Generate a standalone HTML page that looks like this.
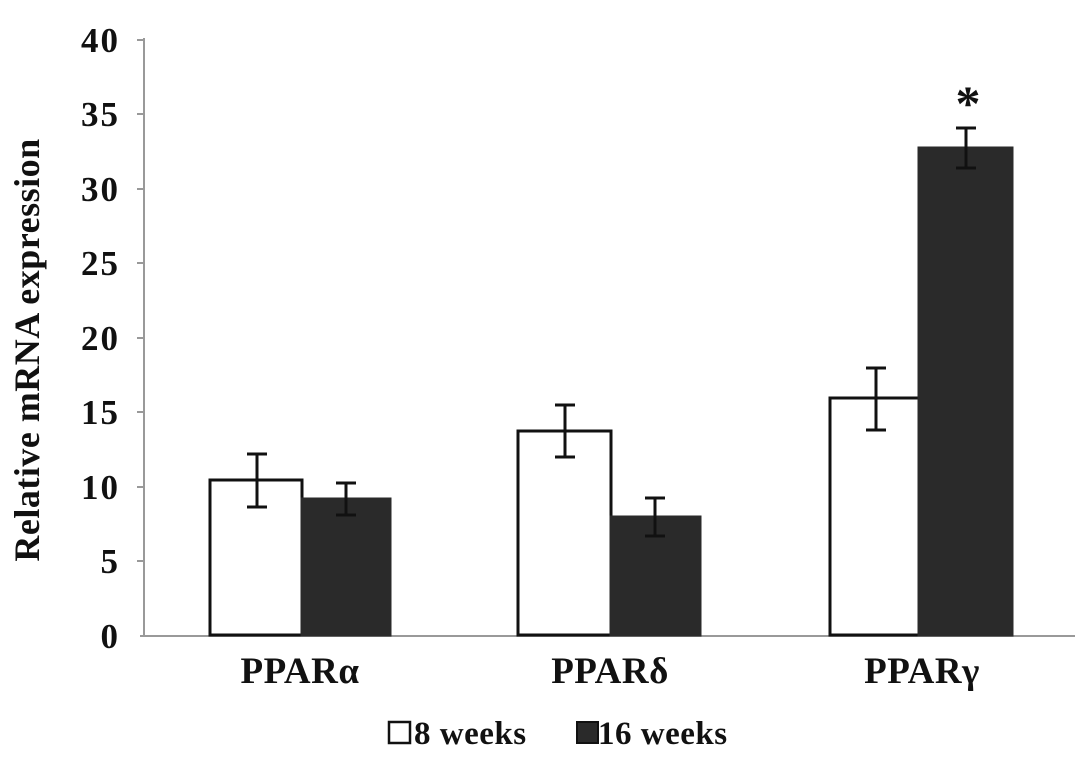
<!DOCTYPE html>
<html><head><style>body{margin:0;background:#fff}</style></head><body>
<svg width="1087" height="758" xmlns="http://www.w3.org/2000/svg" font-family="Liberation Serif, serif" font-weight="bold">
<rect width="1087" height="758" fill="#fff"/>
<g stroke="#999" stroke-width="2">
<line x1="144" y1="38" x2="144" y2="636"/>
<line x1="140" y1="636" x2="1075" y2="636"/>
<line x1="137" y1="40" x2="144" y2="40"/><line x1="137" y1="114" x2="144" y2="114"/>
<line x1="137" y1="189" x2="144" y2="189"/><line x1="137" y1="263" x2="144" y2="263"/>
<line x1="137" y1="338" x2="144" y2="338"/><line x1="137" y1="412" x2="144" y2="412"/>
<line x1="137" y1="487" x2="144" y2="487"/><line x1="137" y1="561" x2="144" y2="561"/>
</g>
<g font-size="35" text-anchor="end" fill="#111" letter-spacing="2">
<text x="120" y="52">40</text><text x="120" y="126">35</text><text x="120" y="201">30</text>
<text x="120" y="275">25</text><text x="120" y="350">20</text><text x="120" y="424">15</text>
<text x="120" y="499">10</text><text x="120" y="573">5</text><text x="120" y="648">0</text>
</g>
<text transform="translate(39,350) rotate(-90)" font-size="36" text-anchor="middle" fill="#111" letter-spacing="0.5">Relative mRNA expression</text>
<g stroke="#111" stroke-width="3">
<rect x="210" y="480" width="92" height="155" fill="#fff"/>
<rect x="302" y="499" width="88" height="136" fill="#2a2a2a" stroke="#2a2a2a"/>
<rect x="518" y="431" width="93" height="204" fill="#fff"/>
<rect x="611" y="517" width="89" height="118" fill="#2a2a2a" stroke="#2a2a2a"/>
<rect x="830" y="398" width="89" height="237" fill="#fff"/>
<rect x="919" y="148" width="93" height="487" fill="#2a2a2a" stroke="#2a2a2a"/>
</g>
<g stroke="#111" stroke-width="3">
<path d="M257 454V507M247 454H267M247 507H267"/>
<path d="M346 483V515M336 483H356M336 515H356"/>
<path d="M565 405V457M555 405H575M555 457H575"/>
<path d="M655 498V536M645 498H665M645 536H665"/>
<path d="M876 368V430M866 368H886M866 430H886"/>
<path d="M966 128V168M956 128H976M956 168H976"/>
</g>
<text x="968" y="120" font-size="50" text-anchor="middle" fill="#111">*</text>
<g font-size="37" text-anchor="middle" fill="#111" letter-spacing="0.5">
<text x="300" y="683">PPARα</text><text x="610" y="683">PPARδ</text><text x="922" y="683">PPARγ</text>
</g>
<rect x="389" y="722" width="21" height="21" fill="#fff" stroke="#111" stroke-width="2.5"/>
<text x="414" y="744" font-size="33" fill="#111" letter-spacing="0.5">8 weeks</text>
<rect x="577" y="722" width="21" height="21" fill="#2a2a2a" stroke="#111" stroke-width="2"/>
<text x="598" y="744" font-size="33" fill="#111" letter-spacing="0.5">16 weeks</text>
</svg>
</body></html>
